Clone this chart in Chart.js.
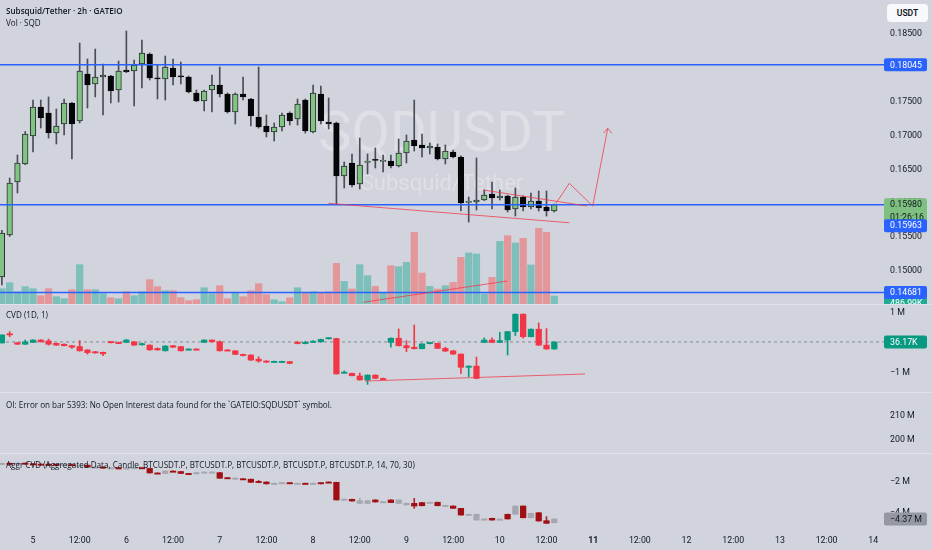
<!DOCTYPE html>
<html>
<head>
<meta charset="utf-8">
<script src="https://cdn.jsdelivr.net/npm/chart.js@4.4.1/dist/chart.umd.min.js"></script>
<style>
  body { margin: 0; width: 932px; height: 550px; overflow: hidden; position: relative; background: #d1d4dc; font-family: "Open Sans", Roboto, sans-serif; }
  canvas { position: absolute; left: 0; }
  .t { position: absolute; left: 6px; font-size: 8.1px; line-height: 12px; color: #131722; white-space: nowrap; z-index: 2; }
  .sep { position: absolute; left: 0; width: 932px; height: 1px; background: #dfe2e9; }
  #usdt { position: absolute; left: 887px; top: 4px; width: 41px; height: 18px; line-height: 18px; text-align: center; background: #f8f9fd; border-radius: 4px; font-family: Roboto, sans-serif; font-size: 8.6px; font-weight: 600; color: #131722; z-index: 2; }
</style>
</head>
<body>
<canvas id="main" width="932" height="304" style="top:0"></canvas>
<div class="sep" style="top:304px"></div>
<canvas id="cvd" width="932" height="87" style="top:305px"></canvas>
<div class="sep" style="top:392px"></div>
<canvas id="oi" width="932" height="60" style="top:393px"></canvas>
<div class="sep" style="top:453px"></div>
<canvas id="aggr" width="932" height="96" style="top:454px"></canvas>

<div class="t" style="top:5px;font-weight:600">Subsquid/Tether · 2h · GATEIO</div>
<div class="t" style="top:17px">Vol · SQD</div>
<div class="t" style="top:309px">CVD (1D, 1)</div>
<div class="t" style="top:399px">OI: Error on bar 5393: No Open Interest data found for the `GATEIO:SQDUSDT` symbol.</div>
<div class="t" style="top:459px">Aggr CVD (Aggregated Data, Candle, BTCUSDT.P, BTCUSDT.P, BTCUSDT.P, BTCUSDT.P, BTCUSDT.P, 14, 70, 30)</div>
<div id="usdt">USDT</div>

<script>
// 2h bars, index 0 = day 5 00:00, first visible bar is index -4
const firstIndex = -4
const tickStep = 6
const tickLabels = ['5', '12:00', '6', '12:00', '7', '12:00', '8', '12:00', '9', '12:00', '10', '12:00', '11', '12:00', '12', '12:00', '13', '12:00', '14']

const priceOpen = [0.14912, 0.15532, 0.16314, 0.16580, 0.16994, 0.17422, 0.17333, 0.17038, 0.17171, 0.17481, 0.17215, 0.17909,
  0.17762, 0.17865, 0.17880, 0.17673, 0.17968, 0.17954, 0.18057, 0.18205, 0.17850, 0.17835, 0.17998, 0.17880,
  0.17865, 0.17629, 0.17511, 0.17673, 0.17747, 0.17614, 0.17348, 0.17614, 0.17540, 0.17274, 0.17141, 0.17053,
  0.17127, 0.17333, 0.17245, 0.17525, 0.17053, 0.17614, 0.17200, 0.17186, 0.16403, 0.16595, 0.16285, 0.16604,
  0.16639, 0.16617, 0.16625, 0.16551, 0.16743, 0.16935, 0.16861, 0.16817, 0.16831, 0.16654, 0.16757, 0.16684,
  0.16012, 0.16019, 0.16049, 0.16137, 0.16078, 0.16108, 0.15916, 0.16093, 0.15945, 0.16034, 0.15945, 0.15886]
const priceHigh = [0.15600, 0.16373, 0.16713, 0.17060, 0.17525, 0.17525, 0.17570, 0.17392, 0.17540, 0.17490, 0.18367, 0.18131,
  0.18278, 0.18057, 0.17890, 0.18101, 0.18544, 0.18116, 0.18411, 0.18220, 0.18042, 0.18175, 0.18131, 0.18086,
  0.17880, 0.17673, 0.17670, 0.17895, 0.18013, 0.17630, 0.17630, 0.17865, 0.17550, 0.18013, 0.17304, 0.17186,
  0.17333, 0.17350, 0.17540, 0.17540, 0.17747, 0.17732, 0.17555, 0.17200, 0.16610, 0.16728, 0.16964, 0.16728,
  0.16817, 0.16713, 0.16713, 0.16949, 0.17009, 0.17525, 0.17023, 0.16890, 0.16876, 0.16861, 0.16787, 0.16700,
  0.16093, 0.16669, 0.16196, 0.16314, 0.16196, 0.16120, 0.16226, 0.16110, 0.16152, 0.16182, 0.16182, 0.15990]
const priceLow = [0.14793, 0.15510, 0.16152, 0.16570, 0.16757, 0.17112, 0.16964, 0.16876, 0.17009, 0.16654, 0.17186, 0.17407,
  0.17570, 0.17304, 0.17481, 0.17496, 0.17930, 0.17437, 0.17703, 0.17821, 0.17540, 0.17525, 0.17747, 0.17762,
  0.17630, 0.17500, 0.17363, 0.17348, 0.17570, 0.17333, 0.17171, 0.17525, 0.17141, 0.17110, 0.16979, 0.16920,
  0.17068, 0.17156, 0.17156, 0.17038, 0.17040, 0.17171, 0.17097, 0.15990, 0.16226, 0.16241, 0.16211, 0.16433,
  0.16521, 0.16462, 0.16521, 0.16536, 0.16595, 0.16772, 0.16684, 0.16728, 0.16640, 0.16580, 0.16670, 0.15886,
  0.15724, 0.15901, 0.16040, 0.15916, 0.16049, 0.15871, 0.15812, 0.15886, 0.15916, 0.15886, 0.15812, 0.15871]
const priceClose = [0.15561, 0.16300, 0.16595, 0.17023, 0.17422, 0.17260, 0.17038, 0.17141, 0.17481, 0.17171, 0.17954, 0.17747,
  0.17865, 0.17895, 0.17658, 0.17954, 0.17939, 0.18042, 0.18219, 0.17850, 0.17835, 0.18013, 0.17865, 0.17865,
  0.17643, 0.17511, 0.17658, 0.17747, 0.17614, 0.17348, 0.17614, 0.17570, 0.17289, 0.17127, 0.17053, 0.17127,
  0.17304, 0.17215, 0.17466, 0.17068, 0.17629, 0.17215, 0.17171, 0.16403, 0.16551, 0.16270, 0.16565, 0.16610,
  0.16632, 0.16625, 0.16551, 0.16743, 0.16920, 0.16846, 0.16817, 0.16846, 0.16654, 0.16772, 0.16684, 0.16004,
  0.16019, 0.16049, 0.16122, 0.16078, 0.16108, 0.15901, 0.16093, 0.15945, 0.16034, 0.15930, 0.15886, 0.15980]
// volume in thousands of SQD
const volume = [933, 1300, 750, 1055, 933, 506, 933, 445, 323, 872, 2397, 872,
  872, 628, 384, 323, 750, 506, 750, 1482, 1055, 811, 811, 384,
  201, 262, 994, 628, 1116, 323, 689, 445, 811, 1238, 567, 262,
  140, 384, 994, 647, 750, 671, 750, 2477, 1379, 915, 2397, 1726,
  1074, 671, 2336, 2275, 2538, 4368, 1891, 1074, 915, 1116, 1318, 2843,
  3111, 3050, 610, 1623, 3819, 4166, 3721, 4002, 2379, 4612, 4368, 487]

// CVD (1D) in millions
const cvdOpen = [0.00, 0.29, 0.01, -0.04, 0.02, 0.10, 0.07, -0.01, -0.04, -0.09, -0.12, -0.23,
  -0.29, -0.31, 0.02, 0.02, 0.02, 0.04, -0.04, -0.07, -0.18, -0.26, -0.09, -0.12,
  -0.22, -0.20, 0.02, 0.10, 0.04, -0.23, -0.26, -0.38, -0.40, -0.54, -0.60, -0.63,
  -0.63, -0.62, 0.02, 0.00, 0.02, 0.04, 0.14, 0.15, -0.98, -1.01, -1.10, -1.23,
  -1.07, -1.18, 0.02, 0.16, -0.09, -0.14, -0.19, -0.02, -0.01, -0.18, -0.26, -0.37,
  -0.81, -0.77, 0.02, 0.10, 0.02, 0.10, 0.38, 0.96, 0.21, 0.46, -0.07, -0.20]
const cvdHigh = [0.27, 0.38, 0.02, 0.10, 0.11, 0.11, 0.13, 0.00, -0.03, -0.08, 0.08, -0.22,
  -0.28, -0.30, 0.03, 0.03, 0.12, 0.05, 0.00, -0.06, -0.16, -0.09, -0.08, -0.11,
  -0.19, -0.19, 0.11, 0.11, 0.07, -0.22, -0.25, -0.37, -0.39, -0.46, -0.59, -0.60,
  -0.60, -0.61, 0.06, 0.06, 0.08, 0.13, 0.17, 0.16, -0.93, -1.00, -1.00, -1.06,
  -1.06, -1.17, 0.17, 0.47, 0.08, 0.60, -0.02, 0.01, 0.00, -0.14, -0.25, -0.36,
  -0.76, -0.47, 0.17, 0.17, 0.36, 0.39, 0.97, 0.97, 0.47, 0.67, 0.48, 0.04]
const cvdLow = [0.00, 0.21, -0.05, -0.05, 0.02, 0.03, -0.07, -0.08, -0.10, -0.18, -0.27, -0.37,
  -0.34, -0.42, 0.00, -0.01, 0.01, -0.08, -0.07, -0.24, -0.24, -0.27, -0.15, -0.27,
  -0.23, -0.23, 0.01, 0.03, -0.27, -0.25, -0.39, -0.43, -0.58, -0.64, -0.65, -0.64,
  -0.64, -0.69, -0.03, -0.03, 0.01, 0.03, 0.13, -1.04, -1.00, -1.10, -1.24, -1.38,
  -1.19, -1.21, -0.14, -0.10, -0.29, -0.20, -0.20, -0.03, -0.19, -0.28, -0.38, -1.01,
  -1.12, -1.19, 0.01, 0.01, 0.01, -0.40, 0.25, 0.16, 0.20, -0.08, -0.21, -0.21]
const cvdClose = [0.27, 0.27, -0.04, 0.04, 0.10, 0.04, -0.04, -0.07, -0.09, -0.14, -0.26, -0.32,
  -0.33, -0.36, 0.01, 0.00, 0.10, -0.07, -0.02, -0.23, -0.23, -0.10, -0.14, -0.26,
  -0.20, -0.22, 0.10, 0.04, -0.26, -0.24, -0.38, -0.42, -0.57, -0.60, -0.64, -0.61,
  -0.61, -0.68, 0.00, 0.02, 0.04, 0.12, 0.15, -1.03, -0.97, -1.09, -1.23, -1.07,
  -1.18, -1.20, 0.16, -0.09, -0.16, -0.19, -0.03, 0.00, -0.18, -0.27, -0.37, -0.81,
  -0.77, -1.18, 0.10, 0.02, 0.08, 0.38, 0.96, 0.21, 0.46, -0.07, -0.20, 0.036]

// Aggr CVD in millions
const aggrOpen = [-0.88, -0.80, -0.82, -0.79, -0.83, -0.85, -0.86, -0.87, -0.89, -0.88, -0.93, -0.92,
  -1.05, -1.04, -1.10, -1.09, -1.12, -1.10, -1.08, -1.13, -1.42, -1.45, -1.30, -1.33,
  -1.45, -1.47, -1.40, -1.37, -1.40, -1.72, -1.81, -1.79, -1.82, -1.96, -2.00, -2.12,
  -2.08, -2.04, -2.10, -2.08, -2.10, -2.04, -2.00, -2.02, -3.13, -3.11, -3.37, -3.37,
  -3.15, -3.28, -3.15, -3.37, -3.47, -3.37, -3.32, -3.32, -3.30, -3.52, -3.54, -3.69,
  -4.10, -4.44, -4.40, -4.33, -4.40, -4.07, -4.07, -3.54, -4.29, -3.97, -4.48, -4.61]
const aggrHigh = [-0.79, -0.79, -0.78, -0.78, -0.82, -0.84, -0.80, -0.86, -0.87, -0.87, -0.91, -0.91,
  -1.03, -1.03, -1.08, -1.08, -1.09, -1.07, -1.07, -1.12, -1.41, -1.29, -1.29, -1.32,
  -1.44, -1.39, -1.35, -1.35, -1.39, -1.71, -1.74, -1.78, -1.81, -1.90, -1.99, -2.07,
  -2.03, -2.03, -2.07, -2.07, -2.07, -2.03, -1.99, -2.01, -3.09, -3.10, -3.05, -3.19,
  -3.14, -3.25, -3.14, -3.14, -3.36, -3.05, -3.31, -3.29, -3.29, -3.49, -3.53, -3.68,
  -4.06, -4.06, -4.36, -4.32, -4.37, -4.06, -3.53, -3.53, -4.00, -3.96, -4.22, -4.36]
const aggrLow = [-0.89, -0.83, -0.83, -0.84, -0.86, -0.88, -0.92, -0.90, -0.90, -0.94, -0.94, -1.06,
  -1.06, -1.11, -1.11, -1.13, -1.13, -1.11, -1.14, -1.43, -1.46, -1.46, -1.34, -1.46,
  -1.48, -1.48, -1.41, -1.38, -1.77, -1.77, -1.82, -1.85, -2.03, -2.05, -2.13, -2.13,
  -2.09, -2.11, -2.11, -2.11, -2.11, -2.13, -2.03, -3.16, -3.14, -3.23, -3.38, -3.38,
  -3.29, -3.29, -3.33, -3.38, -3.48, -3.69, -3.53, -3.33, -3.53, -3.53, -3.70, -4.13,
  -4.11, -4.45, -4.41, -4.45, -4.41, -4.38, -4.08, -4.30, -4.30, -4.51, -4.66, -4.62]
const aggrClose = [-0.80, -0.82, -0.79, -0.83, -0.85, -0.87, -0.87, -0.89, -0.88, -0.93, -0.92, -1.05,
  -1.04, -1.10, -1.09, -1.12, -1.10, -1.08, -1.13, -1.42, -1.45, -1.30, -1.33, -1.45,
  -1.47, -1.40, -1.36, -1.36, -1.76, -1.76, -1.75, -1.84, -2.02, -1.98, -2.12, -2.08,
  -2.04, -2.10, -2.08, -2.10, -2.08, -2.08, -2.02, -3.15, -3.10, -3.22, -3.20, -3.20,
  -3.28, -3.26, -3.32, -3.15, -3.37, -3.54, -3.52, -3.30, -3.52, -3.50, -3.69, -4.12,
  -4.07, -4.07, -4.37, -4.44, -4.38, -4.37, -3.54, -4.29, -4.01, -4.50, -4.65, -4.37]

// horizontal levels and hand drawn lines, [bar index, value]
const levels = [0.18045, 0.1598, 0.14681]
const supportLine = [[37.96, 0.16000], [68.93, 0.15713]]
const wedgeTop = [[57.88, 0.16196], [71.21, 0.15960]]
const projection = [[67.22, 0.16000], [68.93, 0.16295], [71.94, 0.15960], [73.87, 0.17107]]
const arrowHead = [[73.33, 0.17038], [73.87, 0.17107], [74.42, 0.17031]]
const volumeTrend = [[42.42, 104], [60.96, 1403]]
const cvdTrend = [[42.67, -1.267], [70.95, -1.033]]

const priceTicks = [0.15, 0.155, 0.16, 0.165, 0.17, 0.175, 0.18, 0.185]
const cvdTicks = [-1, 1]
const oiTicks = [200, 210]
const aggrTicks = [-4, -2]

Chart.defaults.font.family = 'Roboto, Inter, sans-serif'
Chart.defaults.font.size = 8.8
Chart.defaults.color = '#131722'
Chart.defaults.animation = false

const xView = { min: -4.242, max: 109.38 }
const drawRed = 'rgba(242,54,69,0.75)'

function xScale(show) {
    return {
        type: 'linear', min: xView.min, max: xView.max, offset: false, display: show,
        grid: { display: false, drawTicks: false }, border: { display: false },
        afterBuildTicks: s => { s.ticks = tickLabels.map((_, i) => ({ value: i * tickStep })) },
        afterFit: s => { if (show) { s.height = 22 } s.paddingLeft = 0; s.paddingRight = 0 },
        ticks: {
            autoSkip: false, maxRotation: 0, padding: 8,
            callback: (v, i) => tickLabels[i],
            font: c => ({ size: 8.8, weight: c.index === 12 ? 'bold' : 'normal' })
        }
    }
}

function yScale(min, max, ticks, fmt) {
    return {
        type: 'linear', position: 'right', min: min, max: max,
        grid: { display: false, drawTicks: false }, border: { display: false },
        afterBuildTicks: s => { s.ticks = ticks.map(v => ({ value: v })) },
        afterFit: s => { s.width = 48; s.paddingTop = 0; s.paddingBottom = 0 },
        ticks: { padding: 6, callback: fmt }
    }
}

function candles(o, h, l, c, st) {
    const pts = (a, b) => o.map((_, i) => ({ x: i + firstIndex, y: [a[i], b[i]] }))
    const up = o.map((v, i) => c[i] >= v)
    return [
        { type: 'bar', data: pts(l, h), backgroundColor: up.map(u => u ? st.wickUp : st.wickDown),
          barThickness: 1, grouped: false, order: 4, yAxisID: 'y' },
        { type: 'bar', data: pts(o, c), backgroundColor: up.map(u => u ? st.up : st.down),
          borderColor: up.map(u => u ? st.upBorder : st.downBorder), borderWidth: st.border, borderSkipped: false,
          barThickness: st.width, minBarLength: 1.2, grouped: false, order: 3, yAxisID: 'y' }
    ]
}

function line(points, color, width, axis, dash) {
    return { type: 'line', data: points.map(p => ({ x: p[0], y: p[1] })), borderColor: color, borderWidth: width,
             borderDash: dash || [], pointRadius: 0, fill: false, tension: 0, order: 1, yAxisID: axis }
}

function minus(v) {
    return (v < 0 ? '\u2212' : '') + Math.abs(v)
}

// price-axis label boxes drawn over the tick labels
const boxPlugin = {
    id: 'boxes',
    afterDraw(chart, args, opts) {
        const ctx = chart.ctx
        ctx.save()
        ctx.font = '8.8px Roboto, Inter, sans-serif'
        ctx.textBaseline = 'middle'
        ctx.textAlign = 'left'
        for (const b of opts.items || []) {
            const y = chart.scales[b.axis].getPixelForValue(b.value) + (b.dy || 0)
            ctx.fillStyle = b.bg
            ctx.beginPath()
            ctx.roundRect(884, y - 6.5, 43, 12.5 * b.text.length + 0.5, 2)
            ctx.fill()
            ctx.fillStyle = b.fg
            b.text.forEach((t, k) => ctx.fillText(t, 890, y + k * 12.5 + 0.5))
        }
        ctx.restore()
    }
}

const watermark = {
    id: 'watermark',
    beforeDatasetsDraw(chart) {
        const ctx = chart.ctx
        const cx = (chart.chartArea.left + chart.chartArea.right) / 2
        ctx.save()
        ctx.fillStyle = 'rgba(255,255,255,0.28)'
        ctx.textAlign = 'center'
        ctx.textBaseline = 'middle'
        ctx.font = '56px Roboto, Inter, sans-serif'
        ctx.fillText('SQDUSDT', cx, 137)
        ctx.font = '22px Roboto, Inter, sans-serif'
        ctx.fillText('Subsquid/Tether', cx, 184)
        ctx.restore()
    }
}

const common = {
    responsive: false, events: [],
    layout: { padding: 0 },
    plugins: { legend: { display: false }, tooltip: { enabled: false } }
}

// main pane: candles + volume
const volUp = priceOpen.map((v, i) => priceClose[i] >= v)
new Chart(document.getElementById('main'), {
    type: 'bar',
    data: {
        datasets: [
            { type: 'bar', data: volume.map((v, i) => ({ x: i + firstIndex, y: v })), yAxisID: 'yv',
              backgroundColor: volUp.map(u => u ? '#7dbfba' : '#e3979a'), barThickness: 6.6, grouped: false, order: 6 },
            ...candles(priceOpen, priceHigh, priceLow, priceClose, {
                up: '#80c482', down: '#050607', upBorder: '#2a2e33', downBorder: '#050607',
                wickUp: '#4a4d55', wickDown: '#4a4d55', border: 1, width: 5.6 }),
            ...levels.map(v => ({ ...line([[xView.min, v], [xView.max, v]], '#2962ff', 1.5, 'y'), order: 2 })),
            line(supportLine, drawRed, 1, 'y'),
            line(wedgeTop, drawRed, 1, 'y'),
            line(projection, drawRed, 1, 'y'),
            line(arrowHead, drawRed, 1, 'y'),
            line(volumeTrend, drawRed, 1, 'yv')
        ]
    },
    options: {
        ...common,
        scales: {
            x: xScale(false),
            y: yScale(0.14513, 0.19002, priceTicks, v => v.toFixed(5)),
            yv: { display: false, min: 0, max: 18544 }
        },
        plugins: {
            ...common.plugins,
            boxes: { items: [
                { axis: 'yv', value: volume[volume.length - 1], dy: 7, text: ['486.99K'], bg: '#22ab94', fg: '#ffffff' },
                { axis: 'y', value: 0.18045, text: ['0.18045'], bg: '#2962ff', fg: '#ffffff' },
                { axis: 'y', value: 0.14681, text: ['0.14681'], bg: '#2962ff', fg: '#ffffff' },
                { axis: 'y', value: 0.1598, text: ['0.15980', '01:26:16'], bg: '#7ec07f', fg: '#131722' },
                { axis: 'y', value: 0.15963, dy: 20, text: ['0.15963'], bg: '#2962ff', fg: '#ffffff' }
            ] }
        }
    },
    plugins: [watermark, boxPlugin]
})

// CVD pane
const cvdLast = cvdClose[cvdClose.length - 1]
new Chart(document.getElementById('cvd'), {
    type: 'bar',
    data: {
        datasets: [
            ...candles(cvdOpen, cvdHigh, cvdLow, cvdClose, {
                up: '#089981', down: '#f23645', upBorder: '#089981', downBorder: '#f23645',
                wickUp: '#089981', wickDown: '#f23645', border: 0, width: 5.6 }),
            { ...line([[xView.min, cvdLast], [xView.max, cvdLast]], '#868993', 1, 'y', [3, 3]), order: 5 },
            line(cvdTrend, drawRed, 1, 'y')
        ]
    },
    options: {
        ...common,
        scales: {
            x: xScale(false),
            y: yScale(-1.633, 1.267, cvdTicks, v => minus(v) + ' M')
        },
        plugins: {
            ...common.plugins,
            boxes: { items: [{ axis: 'y', value: cvdLast, text: ['36.17K'], bg: '#089981', fg: '#ffffff' }] }
        }
    },
    plugins: [boxPlugin]
})

// OI pane (no data, only its scale)
new Chart(document.getElementById('oi'), {
    type: 'line',
    data: { datasets: [{ data: [], pointRadius: 0 }] },
    options: {
        ...common,
        scales: {
            x: xScale(false),
            y: yScale(194.58, 219.58, oiTicks, v => v + ' M')
        }
    }
})

// Aggr CVD pane with the time axis
new Chart(document.getElementById('aggr'), {
    type: 'bar',
    data: {
        datasets: candles(aggrOpen, aggrHigh, aggrLow, aggrClose, {
            up: '#a4a7af', down: '#a00f14', upBorder: '#a4a7af', downBorder: '#a00f14',
            wickUp: '#a4a7af', wickDown: '#b2262b', border: 0, width: 5.6 })
    },
    options: {
        ...common,
        scales: {
            x: xScale(true),
            y: yScale(-4.949, -0.205, aggrTicks, v => minus(v) + ' M')
        },
        plugins: {
            ...common.plugins,
            boxes: { items: [{ axis: 'y', value: aggrClose[aggrClose.length - 1], text: ['\u22124.37 M'], bg: '#9598a1', fg: '#131722' }] }
        }
    },
    plugins: [boxPlugin]
})
</script>
</body>
</html>
